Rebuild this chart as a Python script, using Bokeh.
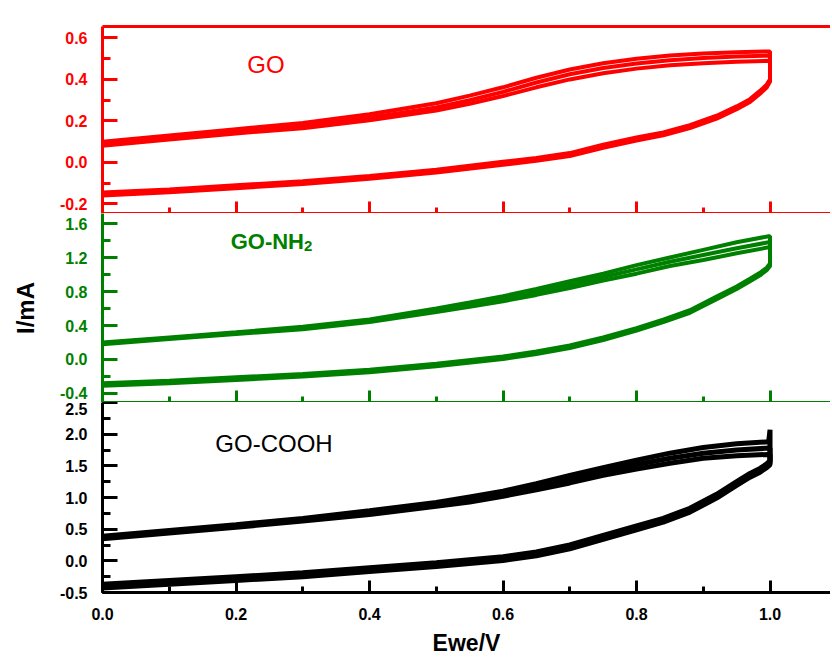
from bokeh.plotting import figure
from bokeh.layouts import column
from bokeh.models import LinearAxis, Range1d, Label, SingleIntervalTicker, PrintfTickFormatter
from bokeh.embed import file_html
from bokeh.resources import INLINE

# ---- data ----
x_anodic = [0.0, 0.1, 0.2, 0.3, 0.4, 0.5, 0.55, 0.6, 0.65, 0.7, 0.75, 0.8, 0.85, 0.9, 0.95, 0.998, 1.0]
x_cathodic = [1.0, 0.995, 0.985, 0.97, 0.95, 0.92, 0.88, 0.84, 0.8, 0.75, 0.7, 0.65, 0.6, 0.5, 0.4, 0.3, 0.2, 0.1, 0.0]

go_anodic_1 = [0.10, 0.13, 0.16, 0.19, 0.232, 0.285, 0.322, 0.362, 0.408, 0.448, 0.478, 0.500, 0.515, 0.525, 0.531, 0.535, 0.535]
go_anodic_2 = [0.09, 0.12, 0.15, 0.175, 0.215, 0.265, 0.30, 0.34, 0.385, 0.425, 0.455, 0.477, 0.492, 0.503, 0.510, 0.515, 0.515]
go_anodic_3 = [0.08, 0.11, 0.14, 0.165, 0.203, 0.250, 0.283, 0.320, 0.362, 0.400, 0.430, 0.452, 0.468, 0.478, 0.485, 0.490, 0.490]
go_cathodic_1 = [0.40, 0.375, 0.345, 0.305, 0.27, 0.225, 0.18, 0.145, 0.12, 0.085, 0.045, 0.022, 0.003, -0.035, -0.065, -0.09, -0.11, -0.13, -0.145]
go_cathodic_2 = [0.395, 0.368, 0.338, 0.298, 0.263, 0.218, 0.173, 0.138, 0.113, 0.078, 0.038, 0.015, -0.004, -0.042, -0.072, -0.097, -0.117, -0.137, -0.152]
go_cathodic_3 = [0.39, 0.361, 0.331, 0.291, 0.256, 0.211, 0.166, 0.131, 0.106, 0.071, 0.031, 0.008, -0.011, -0.049, -0.079, -0.104, -0.124, -0.144, -0.159]

nh2_anodic_1 = [0.20, 0.26, 0.32, 0.385, 0.47, 0.60, 0.67, 0.745, 0.83, 0.92, 1.01, 1.11, 1.20, 1.29, 1.38, 1.45, 1.45]
nh2_anodic_2 = [0.19, 0.25, 0.31, 0.37, 0.455, 0.58, 0.645, 0.715, 0.795, 0.88, 0.97, 1.06, 1.15, 1.23, 1.31, 1.38, 1.38]
nh2_anodic_3 = [0.18, 0.24, 0.30, 0.355, 0.44, 0.56, 0.62, 0.685, 0.76, 0.84, 0.93, 1.01, 1.10, 1.17, 1.25, 1.32, 1.32]
nh2_cathodic_1 = [1.13, 1.08, 1.02, 0.95, 0.86, 0.74, 0.58, 0.47, 0.37, 0.26, 0.165, 0.095, 0.035, -0.05, -0.12, -0.17, -0.21, -0.25, -0.28]
nh2_cathodic_2 = [1.115, 1.065, 1.005, 0.935, 0.845, 0.725, 0.565, 0.455, 0.355, 0.245, 0.15, 0.08, 0.02, -0.065, -0.135, -0.185, -0.225, -0.265, -0.295]
nh2_cathodic_3 = [1.10, 1.05, 0.99, 0.92, 0.83, 0.71, 0.55, 0.44, 0.34, 0.23, 0.135, 0.065, 0.005, -0.08, -0.15, -0.20, -0.24, -0.28, -0.31]

cooh_anodic_1 = [0.39, 0.48, 0.57, 0.67, 0.79, 0.92, 1.01, 1.10, 1.22, 1.35, 1.47, 1.59, 1.70, 1.79, 1.85, 1.88, 2.07]
cooh_anodic_2 = [0.37, 0.46, 0.55, 0.65, 0.76, 0.89, 0.97, 1.06, 1.17, 1.29, 1.41, 1.52, 1.62, 1.70, 1.75, 1.78, 1.78]
cooh_anodic_3 = [0.35, 0.44, 0.53, 0.63, 0.73, 0.86, 0.93, 1.02, 1.12, 1.23, 1.35, 1.45, 1.54, 1.62, 1.66, 1.68, 1.68]
cooh_cathodic_1 = [1.58, 1.53, 1.46, 1.38, 1.25, 1.05, 0.83, 0.67, 0.55, 0.40, 0.25, 0.14, 0.065, -0.03, -0.11, -0.19, -0.25, -0.31, -0.37]
cooh_cathodic_2 = [1.55, 1.50, 1.43, 1.35, 1.22, 1.02, 0.80, 0.64, 0.52, 0.37, 0.22, 0.11, 0.035, -0.06, -0.14, -0.22, -0.28, -0.34, -0.40]
cooh_cathodic_3 = [1.52, 1.47, 1.40, 1.32, 1.19, 0.99, 0.77, 0.61, 0.49, 0.34, 0.19, 0.08, 0.005, -0.09, -0.17, -0.25, -0.31, -0.37, -0.43]

x_ticks_interval = 0.2
go_tick_interval = 0.2
nh2_tick_interval = 0.4
cooh_tick_interval = 0.5

RED = "#ff0000"
GREEN = "#008000"
BLACK = "#000000"
FONT = "Liberation Sans"

x_range = Range1d(0.0, 1.0906)


def make_fig(height, y_range, color, border_top, border_bottom, y_interval):
    p = figure(width=830, height=height, x_range=x_range, y_range=y_range,
               output_backend="svg", toolbar_location=None,
               min_border_left=102, min_border_right=0,
               min_border_top=border_top, min_border_bottom=border_bottom)
    p.outline_line_color = None
    p.grid.visible = False
    p.background_fill_color = "white"
    ya = p.yaxis[0]
    ya.ticker = SingleIntervalTicker(interval=y_interval, num_minor_ticks=2)
    ya.formatter = PrintfTickFormatter(format="%.1f")
    ya.axis_line_color = color
    ya.axis_line_width = 3
    ya.major_tick_line_color = color
    ya.minor_tick_line_color = color
    ya.major_tick_line_width = 3
    ya.minor_tick_line_width = 3
    ya.major_tick_in = 15
    ya.major_tick_out = 0
    ya.minor_tick_in = 8
    ya.minor_tick_out = 0
    ya.major_label_text_color = color
    ya.major_label_text_font = FONT
    ya.major_label_text_font_style = "bold"
    ya.major_label_text_font_size = "16px"
    ya.major_label_standoff = 15
    xa = p.xaxis[0]
    xa.ticker = SingleIntervalTicker(interval=x_ticks_interval, num_minor_ticks=2)
    xa.formatter = PrintfTickFormatter(format="%.1f")
    xa.axis_line_color = color
    xa.axis_line_width = 3
    xa.major_tick_line_color = color
    xa.minor_tick_line_color = color
    xa.major_tick_line_width = 3
    xa.minor_tick_line_width = 3
    xa.major_tick_in = 12
    xa.major_tick_out = 0
    xa.minor_tick_in = 6
    xa.minor_tick_out = 0
    xa.major_label_text_color = color
    xa.major_label_text_font = FONT
    xa.major_label_text_font_style = "bold"
    return p


def hide_x_labels(axis):
    axis.major_label_text_font_size = "0px"
    axis.major_label_text_color = None
    axis.major_label_standoff = 0


def draw_cycles(p, anodics, cathodics, color, width):
    for a, c in zip(anodics, cathodics):
        p.line(x_anodic + x_cathodic, a + c, line_color=color, line_width=width)


# Top panel: GO
p1 = make_fig(213, Range1d(-0.246, 0.655), RED, 26, 0, go_tick_interval)
hide_x_labels(p1.xaxis[0])
top_ax = LinearAxis(axis_line_color=RED, axis_line_width=3,
                    major_tick_line_color=None, minor_tick_line_color=None,
                    major_tick_in=0, major_tick_out=0)
hide_x_labels(top_ax)
p1.add_layout(top_ax, "above")
draw_cycles(p1, [go_anodic_1, go_anodic_2, go_anodic_3],
            [go_cathodic_1, go_cathodic_2, go_cathodic_3], RED, 4)
p1.add_layout(Label(x=0.217, y=0.472, text="GO", text_color=RED, text_font=FONT,
                    text_font_size="24px", text_baseline="alphabetic"))

# Middle panel: GO-NH2
p2 = make_fig(189, Range1d(-0.506, 1.718), GREEN, 0, 0, nh2_tick_interval)
hide_x_labels(p2.xaxis[0])
draw_cycles(p2, [nh2_anodic_1, nh2_anodic_2, nh2_anodic_3],
            [nh2_cathodic_1, nh2_cathodic_2, nh2_cathodic_3], GREEN, 4)
p2.add_layout(Label(x=0.192, y=1.39, text="GO-NH", text_color=GREEN, text_font=FONT,
                    text_font_style="bold", text_font_size="22px", text_baseline="alphabetic"))
p2.add_layout(Label(x=0.302, y=1.33, text="2", text_color=GREEN, text_font=FONT,
                    text_font_style="bold", text_font_size="15px", text_baseline="alphabetic"))
p2.yaxis[0].axis_label = "I/mA"
p2.yaxis[0].axis_label_text_font = FONT
p2.yaxis[0].axis_label_text_font_style = "bold"
p2.yaxis[0].axis_label_text_font_size = "24px"
p2.yaxis[0].axis_label_text_color = BLACK
p2.yaxis[0].axis_label_standoff = 18

# Bottom panel: GO-COOH
p3 = make_fig(257, Range1d(-0.5, 2.5), BLACK, 0, 67, cooh_tick_interval)
xa3 = p3.xaxis[0]
xa3.major_label_text_font_size = "16px"
xa3.major_label_standoff = 15
xa3.axis_label = "Ewe/V"
xa3.axis_label_text_font = FONT
xa3.axis_label_text_font_style = "bold"
xa3.axis_label_text_font_size = "23px"
xa3.axis_label_text_color = BLACK
xa3.axis_label_standoff = 7
draw_cycles(p3, [cooh_anodic_1, cooh_anodic_2, cooh_anodic_3],
            [cooh_cathodic_1, cooh_cathodic_2, cooh_cathodic_3], BLACK, 5)
p3.add_layout(Label(x=0.169, y=1.85, text="GO-COOH", text_color=BLACK, text_font=FONT,
                    text_font_size="24px", text_baseline="alphabetic"))

layout = column(p1, p2, p3, spacing=0)
open("out.html", "w").write(file_html(layout, INLINE))
